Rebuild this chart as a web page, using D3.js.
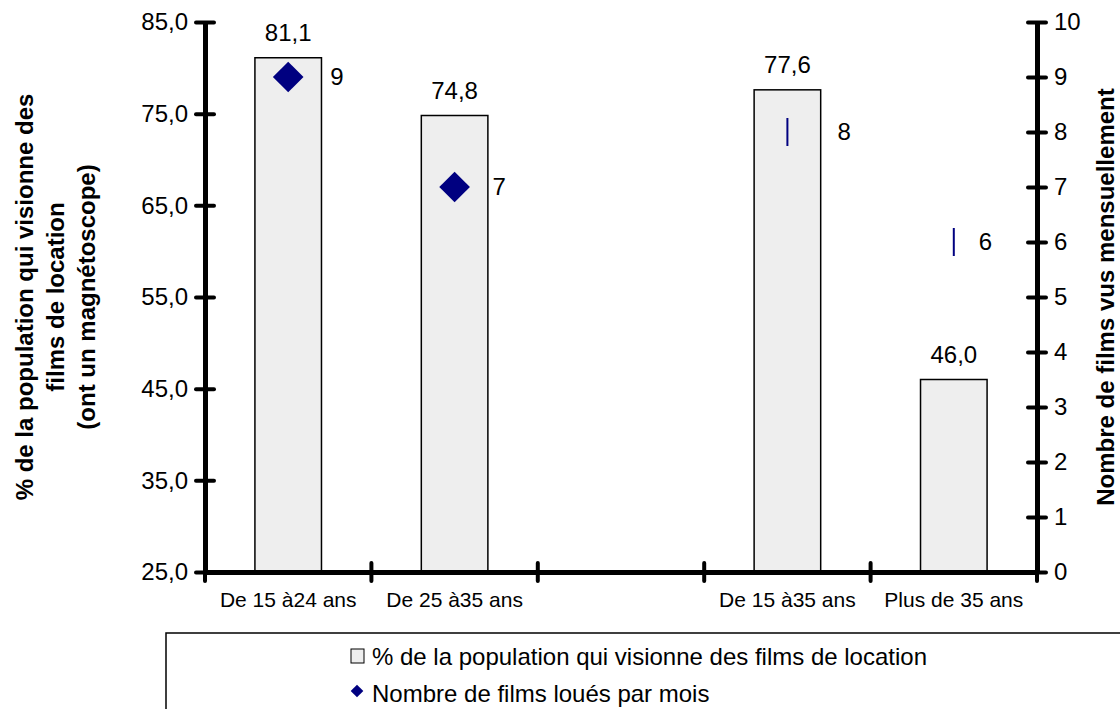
<!DOCTYPE html>
<html>
<head>
<meta charset="utf-8">
<script src="https://cdnjs.cloudflare.com/ajax/libs/d3/7.8.5/d3.min.js"></script>
<style>
  body { margin: 0; background: #fff; }
  svg { display: block; font-family: Arial, "Liberation Sans", sans-serif; }
</style>
</head>
<body>
<div class="container"></div>
<script>
// categories on the x axis (third slot is an empty gap in the original)
const CATEGORIES = ["De 15 à24 ans", "De 25 à35 ans", "", "De 15 à35 ans", "Plus de 35 ans"];
// % de la population qui visionne des films de location
const PCT_VALUES = [81.1, 74.8, null, 77.6, 46.0];
// Nombre de films loués par mois (diamonds)
const FILMS_LOUES = [9, 7, null, null, null];
// Nombre de films vus mensuellement (dash markers)
const FILMS_VUS = [null, null, null, 8, 6];
const LEFT_TICKS = [25, 35, 45, 55, 65, 75, 85];
const RIGHT_TICKS = [0, 1, 2, 3, 4, 5, 6, 7, 8, 9, 10];
const LEGEND_LABELS = [
  "% de la population qui visionne des films de location",
  "Nombre de films loués par mois"
];

const WIDTH = 1120, HEIGHT = 709;
const NAVY = "#000080";
const fr = d3.formatLocale({decimal: ",", thousands: " ", grouping: [3], currency: ["", " €"]});
const fmt1 = fr.format(".1f");

const svg = d3.select(".container").append("svg")
  .attr("width", WIDTH)
  .attr("height", HEIGHT);

let x = d3.scaleBand().domain(CATEGORIES).range([205, 1037]).padding(0);
let yLeft = d3.scaleLinear().domain([25, 85]).range([572, 22]);
let yRight = d3.scaleLinear().domain([0, 10]).range([572, 22]);
const barW = x.bandwidth() * 0.4;
const cx = i => x(CATEGORIES[i]) + x.bandwidth() / 2;

// bars
const barData = PCT_VALUES.map((v, i) => ({v, i})).filter(d => d.v != null);
svg.selectAll(".bar")
  .data(barData)
  .enter()
  .append("rect")
  .attr("class", "bar")
  .attr("x", d => cx(d.i) - barW / 2)
  .attr("y", d => yLeft(d.v))
  .attr("width", barW)
  .attr("height", d => yLeft(25) - yLeft(d.v))
  .attr("fill", "#eeeeee")
  .attr("stroke", "#000")
  .attr("stroke-width", 1.5);

svg.selectAll(".bar-label")
  .data(barData)
  .enter()
  .append("text")
  .attr("x", d => cx(d.i))
  .attr("y", d => yLeft(d.v) - 17)
  .attr("text-anchor", "middle")
  .attr("font-size", "24px")
  .text(d => fmt1(d.v));

// diamonds (films loués)
const labelDx = [42, 38, 0, 50, 25];  // label nudges as placed in the original
const loues = FILMS_LOUES.map((v, i) => ({v, i})).filter(d => d.v != null);
svg.selectAll(".diamond")
  .data(loues)
  .enter()
  .append("path")
  .attr("d", d3.symbol(d3.symbolSquare, 470))
  .attr("transform", d => `translate(${cx(d.i)},${yRight(d.v)}) rotate(45)`)
  .attr("fill", NAVY);

// dashes (films vus)
const vus = FILMS_VUS.map((v, i) => ({v, i})).filter(d => d.v != null);
svg.selectAll(".dash")
  .data(vus)
  .enter()
  .append("line")
  .attr("x1", d => cx(d.i))
  .attr("x2", d => cx(d.i))
  .attr("y1", d => yRight(d.v) - 14)
  .attr("y2", d => yRight(d.v) + 14)
  .attr("stroke", NAVY)
  .attr("stroke-width", 2);

svg.selectAll(".pt-label")
  .data(loues.concat(vus))
  .enter()
  .append("text")
  .attr("x", d => cx(d.i) + labelDx[d.i])
  .attr("y", d => yRight(d.v))
  .attr("dy", "0.35em")
  .attr("font-size", "24px")
  .text(d => d.v);

// left axis
let axisL = svg.append("g")
  .attr("transform", "translate(205,0)")
  .call(d3.axisLeft(yLeft).tickValues(LEFT_TICKS).tickSize(9).tickSizeOuter(0).tickPadding(8).tickFormat(fmt1));
axisL.selectAll(".tick line").attr("x1", 9).attr("stroke-width", 4).attr("stroke-linecap", "round");
axisL.selectAll("text").attr("font-size", "24px").attr("fill", "#000");
axisL.select(".domain").attr("stroke-width", 5);

// right axis
let axisR = svg.append("g")
  .attr("transform", "translate(1037,0)")
  .call(d3.axisRight(yRight).tickValues(RIGHT_TICKS).tickSize(9).tickSizeOuter(0).tickPadding(8));
axisR.selectAll(".tick line").attr("x1", -9).attr("stroke-width", 4).attr("stroke-linecap", "round");
axisR.selectAll("text").attr("font-size", "24px").attr("fill", "#000");
axisR.select(".domain").attr("stroke-width", 5);

// x axis: labels at band centres, ticks at band edges
let axisX = svg.append("g")
  .attr("transform", "translate(0,572)")
  .call(d3.axisBottom(x).tickSize(0).tickPadding(20));
axisX.select(".domain").attr("stroke-width", 5);
axisX.selectAll("text").attr("font-size", "21px").attr("fill", "#000");

const edges = CATEGORIES.map(c => x(c)).concat([x.range()[1]]);
axisX.selectAll(".edge")
  .data(edges)
  .enter()
  .append("line")
  .attr("x1", d => d).attr("x2", d => d)
  .attr("y1", -9).attr("y2", 9)
  .attr("stroke", "#000")
  .attr("stroke-width", 4)
  .attr("stroke-linecap", "round");

// axis titles
const leftTitle = svg.append("text")
  .attr("transform", `translate(0,${(yLeft(25) + yLeft(85)) / 2}) rotate(-90)`)
  .attr("text-anchor", "middle")
  .attr("font-size", "24px")
  .attr("font-weight", "bold");
["% de la population qui visionne des", "films de location", "(ont un magnétoscope)"].forEach((t, i) => {
  leftTitle.append("tspan").attr("x", 0).attr("y", 33 + i * 31).text(t);
});

svg.append("text")
  .attr("transform", `translate(1114,${(yRight(0) + yRight(10)) / 2}) rotate(-90)`)
  .attr("text-anchor", "middle")
  .attr("font-size", "24px")
  .attr("font-weight", "bold")
  .text("Nombre de films vus mensuellement");

// legend (box runs off the right/bottom edge like the original)
let legend = svg.append("g");
legend.append("rect")
  .attr("x", 166).attr("y", 633)
  .attr("width", 1000).attr("height", 120)
  .attr("fill", "#fff")
  .attr("stroke", "#000")
  .attr("stroke-width", 1.5);

legend.append("rect")
  .attr("x", 351).attr("y", 649)
  .attr("width", 13).attr("height", 14)
  .attr("fill", "#eeeeee").attr("stroke", "#000").attr("stroke-width", 1);
legend.append("path")
  .attr("d", d3.symbol(d3.symbolSquare, 80))
  .attr("transform", "translate(357,691) rotate(45)")
  .attr("fill", NAVY);

legend.selectAll(".leg-text")
  .data(LEGEND_LABELS)
  .enter()
  .append("text")
  .attr("x", 372)
  .attr("y", (d, i) => 665 + i * 37)
  .attr("font-size", "24px")
  .text(d => d);
</script>
</body>
</html>
